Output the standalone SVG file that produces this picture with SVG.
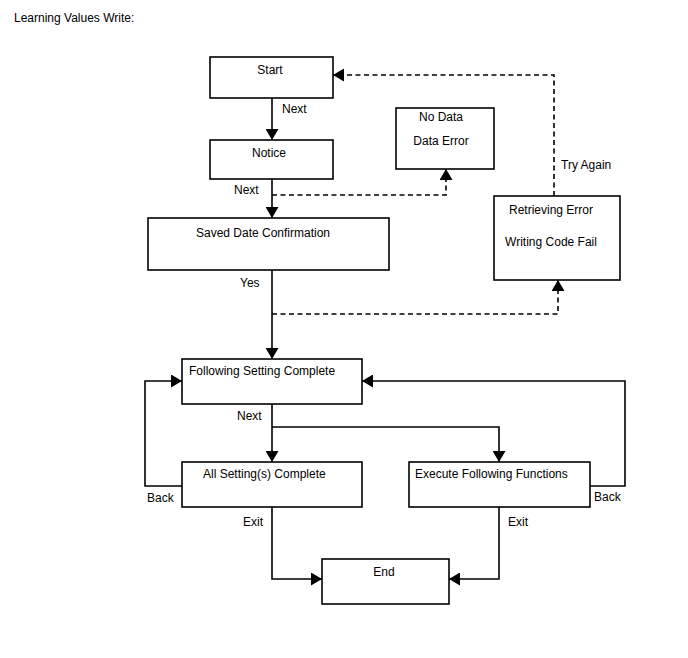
<svg xmlns="http://www.w3.org/2000/svg" width="688" height="658" viewBox="0 0 688 658">
<style>
text{font-family:"Liberation Sans",Arial,sans-serif;font-size:12px;fill:#000}
.box{fill:#fff;stroke:#000;stroke-width:1.6}
.ln{fill:none;stroke:#000;stroke-width:1.6}
.dash{fill:none;stroke:#000;stroke-width:1.6;stroke-dasharray:5,3.5}
.c{text-anchor:middle}
</style>
<defs>
<marker id="ah" markerUnits="userSpaceOnUse" markerWidth="12" markerHeight="13" refX="11" refY="6.5" orient="auto">
<path d="M0,0 L11,6.5 L0,13 z" fill="#000" stroke="none"/>
</marker>
</defs>
<rect width="688" height="658" fill="#fff"/>
<text x="14" y="22">Learning Values Write:</text>
<g id="connectors">
<path class="ln" d="M272,98 L272,140" marker-end="url(#ah)"/>
<path class="ln" d="M272,179 L272,218" marker-end="url(#ah)"/>
<path class="dash" d="M272,195 L446,195 L446,169" marker-end="url(#ah)"/>
<path class="ln" d="M272,270 L272,359" marker-end="url(#ah)"/>
<path class="dash" d="M272,314 L558,314 L558,280" marker-end="url(#ah)"/>
<path class="dash" d="M554,196 L554,75 L333,75" marker-end="url(#ah)"/>
<path class="ln" d="M272,404 L272,462" marker-end="url(#ah)"/>
<path class="ln" d="M272,427 L499,427 L499,462" marker-end="url(#ah)"/>
<path class="ln" d="M182,486 L145,486 L145,381 L182,381" marker-end="url(#ah)"/>
<path class="ln" d="M590,486 L625,486 L625,381 L362,381" marker-end="url(#ah)"/>
<path class="ln" d="M272,507 L272,579 L322,579" marker-end="url(#ah)"/>
<path class="ln" d="M499,507 L499,579 L449,579" marker-end="url(#ah)"/>
<text x="282" y="113">Next</text>
<text x="234" y="194">Next</text>
<text x="240" y="287">Yes</text>
<text x="237" y="420">Next</text>
<text x="147" y="502">Back</text>
<text x="243" y="526">Exit</text>
<text x="594" y="501">Back</text>
<text x="508" y="526">Exit</text>
<text x="561" y="169">Try Again</text>
</g>
<g id="start"><rect class="box" x="210" y="57" width="123" height="41"/><text class="c" x="270" y="74">Start</text></g>
<g id="notice"><rect class="box" x="210" y="140" width="123" height="39"/><text class="c" x="269" y="157">Notice</text></g>
<g id="saved"><rect class="box" x="148" y="218" width="241" height="52"/><text class="c" x="263" y="237">Saved Date Confirmation</text></g>
<g id="nodata"><rect class="box" x="396" y="108" width="98" height="61"/><text class="c" x="441" y="121">No Data</text><text class="c" x="441" y="145">Data Error</text></g>
<g id="retrieving"><rect class="box" x="494" y="196" width="126" height="84"/><text class="c" x="551" y="214">Retrieving Error</text><text class="c" x="551" y="246">Writing Code Fail</text></g>
<g id="following"><rect class="box" x="182" y="359" width="180" height="45"/><text x="189" y="375">Following Setting Complete</text></g>
<g id="allsetting"><rect class="box" x="182" y="462" width="180" height="45"/><text x="203" y="478">All Setting(s) Complete</text></g>
<g id="execute"><rect class="box" x="409" y="462" width="181" height="45"/><text x="415" y="478">Execute Following Functions</text></g>
<g id="end"><rect class="box" x="322" y="559" width="127" height="45"/><text class="c" x="384" y="576">End</text></g>
</svg>
